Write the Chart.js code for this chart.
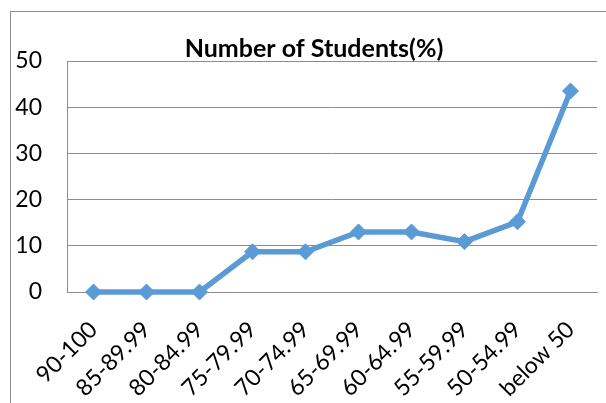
<!DOCTYPE html>
<html>
<head>
<meta charset="utf-8">
<script src="https://cdn.jsdelivr.net/npm/chart.js@4"></script>
<style>
  html, body { margin: 0; padding: 0; background: #fff; }
  #wrap { width: 606px; height: 403px; }
</style>
</head>
<body>
<div id="wrap"><canvas id="studentChart" width="606" height="403"></canvas></div>
<script>
const categories = ["90-100","85-89.99","80-84.99","75-79.99","70-74.99","65-69.99","60-64.99","55-59.99","50-54.99","below 50"];
const studentPercent = [0, 0, 0, 8.7, 8.7, 13, 13, 10.9, 15.2, 43.5];
const yTicks = [0, 10, 20, 30, 40, 50];

// outer chart border like the spreadsheet frame
const framePlugin = {
    id: 'frame',
    beforeDraw(chart) {
        let c = chart.ctx;
        c.save();
        c.strokeStyle = '#8c8c8c';
        c.lineWidth = 1;
        c.strokeRect(10.5, 11.5, 700, 500);
        c.restore();
    }
};

window.onload = function() {
    let ctx = document.getElementById('studentChart');
    new Chart(ctx, {
        type: 'line',
        data: {
            labels: categories,
            datasets: [{
                label: 'Number of Students(%)',
                data: studentPercent,
                borderColor: '#5B9BD5',
                backgroundColor: '#5B9BD5',
                borderWidth: 5.5,
                pointStyle: 'rectRot',
                pointRadius: 8,
                pointBorderWidth: 1,
                pointBackgroundColor: '#5B9BD5',
                pointBorderColor: '#5B9BD5',
                tension: 0,
                clip: false
            }]
        },
        options: {
            responsive: false,
            animation: false,
            layout: { padding: { top: 36, right: 3, bottom: 0, left: 25 } },
            plugins: {
                legend: { display: false },
                tooltip: { enabled: false },
                title: {
                    display: true,
                    text: 'Number of Students(%)',
                    color: '#000',
                    font: { family: 'Lato', size: 25, weight: 'bold', lineHeight: 1 },
                    padding: { top: 0, bottom: 0 }
                }
            },
            scales: {
                x: {
                    offset: true,
                    grid: { display: false, drawTicks: false },
                    border: { display: true, color: '#8c8c8c', width: 1 },
                    ticks: {
                        color: '#000',
                        font: { family: 'Lato', size: 23 },
                        minRotation: 45,
                        maxRotation: 45,
                        padding: 24,
                        autoSkip: false
                    },
                    afterFit: function(s) {
                        s.height = 111;
                        s.paddingLeft = 0;
                        s.paddingRight = 0;
                    }
                },
                y: {
                    min: 0,
                    max: 50,
                    afterBuildTicks: function(s) { s.ticks = yTicks.map(v => ({ value: v })); },
                    grid: { color: '#8c8c8c', lineWidth: 1, drawTicks: false },
                    border: { display: true, color: '#8c8c8c', width: 1 },
                    ticks: {
                        color: '#000',
                        font: { family: 'Lato', size: 23 },
                        padding: 25
                    },
                    afterFit: function(s) {
                        s.width = 42;
                        s.paddingTop = 0;
                        s.paddingBottom = 0;
                        // labels sit left of the box, don't clip them
                        s._computeLabelArea = function() { return undefined; };
                    }
                }
            }
        },
        plugins: [framePlugin]
    });
};
</script>
</body>
</html>
